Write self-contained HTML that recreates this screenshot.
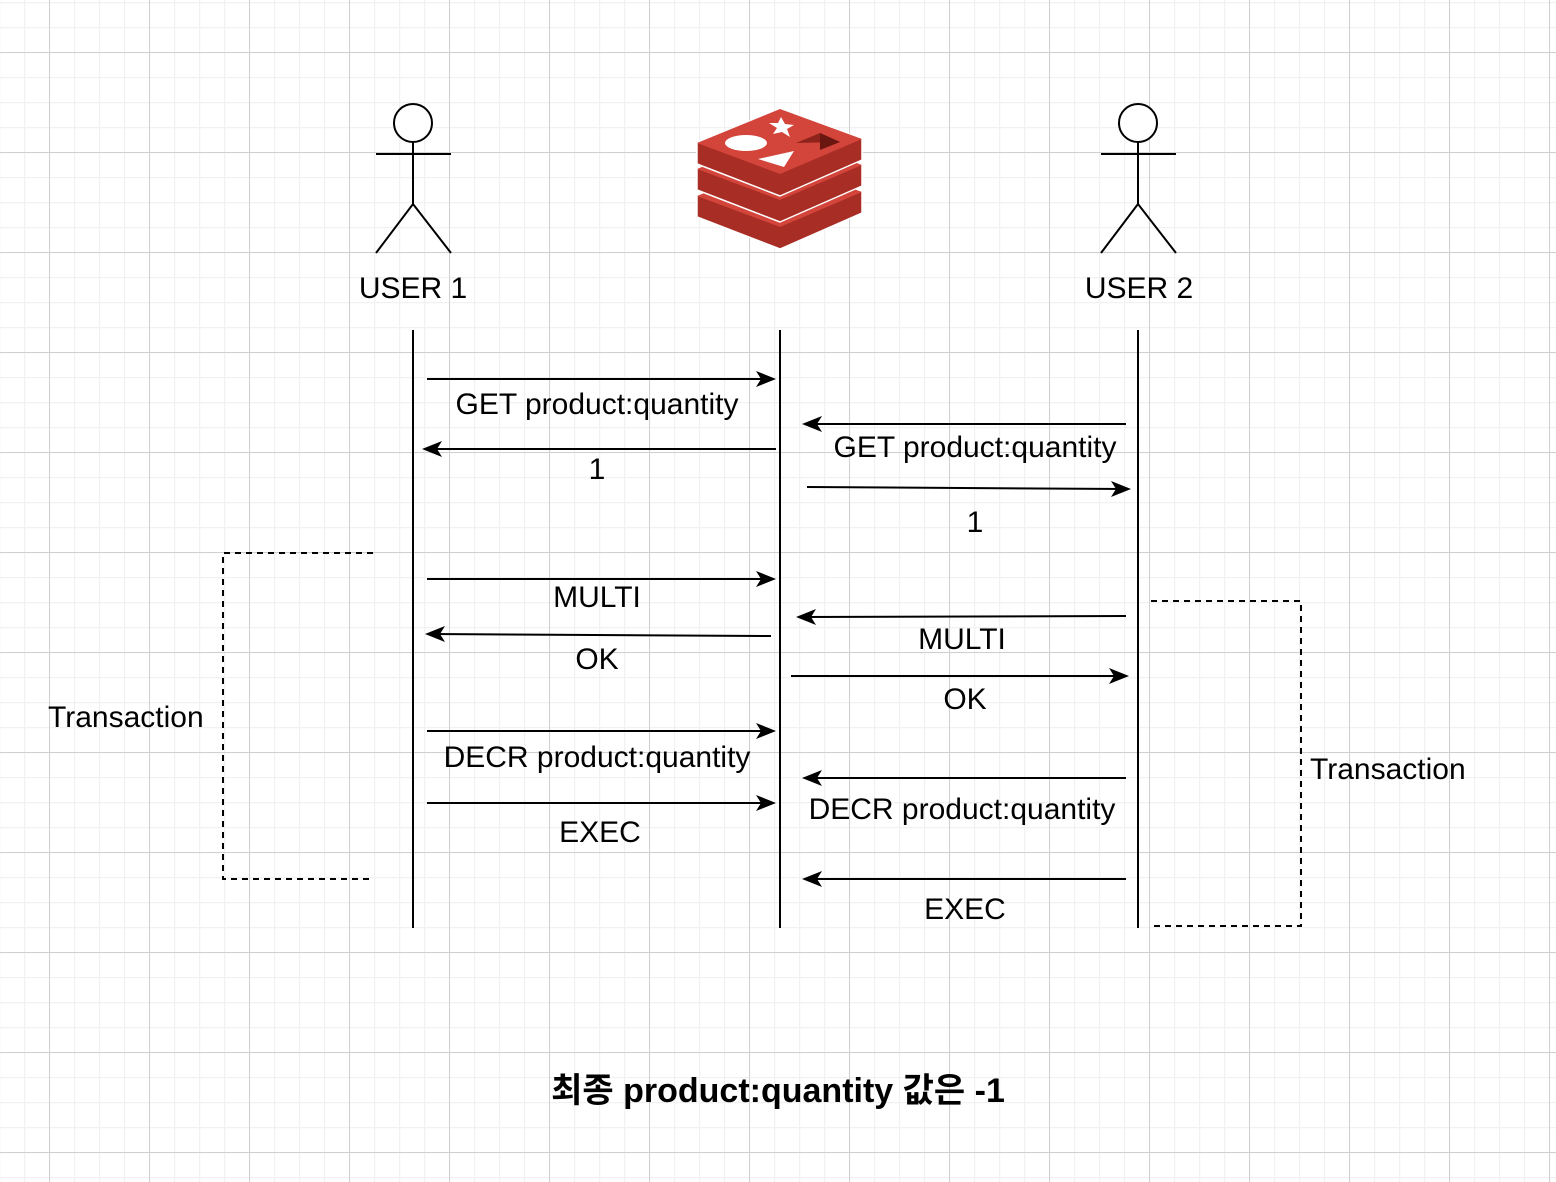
<!DOCTYPE html>
<html><head><meta charset="utf-8"><style>
html,body{margin:0;padding:0;background:#fff}
svg{display:block}
text{font-family:"Liberation Sans","Noto Sans CJK KR",sans-serif;font-size:30px;fill:#000}
</style></head><body>
<svg width="1556" height="1182" viewBox="0 0 1556 1182" xmlns="http://www.w3.org/2000/svg">
<defs>
<pattern id="minor" width="25" height="25" patternUnits="userSpaceOnUse" x="-1" y="2">
<path d="M0.5 0V25M0 0.5H25" stroke="#f1f1f1" stroke-width="1.5" fill="none"/>
</pattern>
<pattern id="major" width="100" height="100" patternUnits="userSpaceOnUse" x="49" y="52">
<path d="M0.5 0V100M0 0.5H100" stroke="#d0d0d0" stroke-width="1" fill="none"/>
</pattern>
</defs>
<rect width="1556" height="1182" fill="url(#minor)"/>
<rect width="1556" height="1182" fill="url(#major)"/>

<g stroke="#000" stroke-width="2" fill="none">
<circle cx="413" cy="123" r="19" fill="#fff"/>
<path d="M413 142V204M376 154H451M376 253L413 204L451 253"/>
<circle cx="1138" cy="123" r="19" fill="#fff"/>
<path d="M1138 142V204M1101 154H1176M1101 253L1138 204L1176 253"/>
</g>
<text x="413" y="298" text-anchor="middle">USER 1</text>
<text x="1139" y="298" text-anchor="middle">USER 2</text>

<g stroke="#fff" stroke-width="1.5" stroke-linejoin="round">
<path d="M697 196L780 162L862 192V213L780 249L697 217Z" fill="#a72d25"/>
<path d="M697 196L780 162L862 192L780 227Z" fill="#d3443a" stroke="none"/>
<path d="M697 169L780 135L862 165V186L780 222L697 190Z" fill="#a72d25"/>
<path d="M697 169L780 135L862 165L780 200Z" fill="#d3443a" stroke="none"/>
<path d="M697 143L780 109L862 139V160L780 196L697 164Z" fill="#a72d25"/>
<path d="M697 143L780 109L862 139L780 174Z" fill="#d3443a" stroke="none"/>
</g>
<ellipse cx="746" cy="143" rx="21" ry="8" fill="#fff"/>
<path d="M758 159L794 151L784 167Z" fill="#fff"/>
<path d="M781 117L785 124L794 125L787 129L790 137L782 132L773 134L777 128L769 123L778 123Z" fill="#fff"/>
<path d="M796 143L820 133L840 142Z" fill="#8f241d"/>
<path d="M820 133L840 142L820 150Z" fill="#6a1712"/>

<g stroke="#000" stroke-width="2">
<path d="M413 330V928M780 330V928M1138 330V928"/>
</g>

<g stroke="#000" stroke-width="2" fill="none">
<path d="M427 379H770"/>
<path d="M776 449H428"/>
<path d="M1126 424H808"/>
<path d="M807 487L1125 489"/>
<path d="M427 579H770"/>
<path d="M771 636L431 634"/>
<path d="M1126 616L802 617"/>
<path d="M791 676H1123"/>
<path d="M427 731H770"/>
<path d="M1126 778H808"/>
<path d="M427 803H770"/>
<path d="M1126 879H808"/>
</g>
<g fill="#000">
<path d="M776 379l-20-8l5 8l-5 8z"/>
<path d="M422 449l20-8l-5 8l5 8z"/>
<path d="M802 424l20-8l-5 8l5 8z"/>
<path d="M1131 489l-20-8l5 8l-5 8z"/>
<path d="M776 579l-20-8l5 8l-5 8z"/>
<path d="M425 634l20-8l-5 8l5 8z"/>
<path d="M796 617l20-8l-5 8l5 8z"/>
<path d="M1129 676l-20-8l5 8l-5 8z"/>
<path d="M776 731l-20-8l5 8l-5 8z"/>
<path d="M802 778l20-8l-5 8l5 8z"/>
<path d="M776 803l-20-8l5 8l-5 8z"/>
<path d="M802 879l20-8l-5 8l5 8z"/>
</g>

<g text-anchor="middle">
<text x="597" y="414">GET product:quantity</text>
<text x="597" y="479">1</text>
<text x="975" y="457">GET product:quantity</text>
<text x="975" y="532">1</text>
<text x="597" y="607">MULTI</text>
<text x="597" y="669">OK</text>
<text x="962" y="649">MULTI</text>
<text x="965" y="709">OK</text>
<text x="597" y="767">DECR product:quantity</text>
<text x="962" y="819">DECR product:quantity</text>
<text x="600" y="842">EXEC</text>
<text x="965" y="919">EXEC</text>
</g>

<g stroke="#000" stroke-width="2" fill="none" stroke-dasharray="6 5">
<path d="M373 553H223V879H373"/>
<path d="M1151 601H1301V926H1151"/>
</g>
<text x="48" y="727">Transaction</text>
<text x="1310" y="779">Transaction</text>

<text x="778" y="1102" text-anchor="middle" style="font-weight:bold;font-size:34px">최종 product:quantity 값은 -1</text>
</svg>
</body></html>
